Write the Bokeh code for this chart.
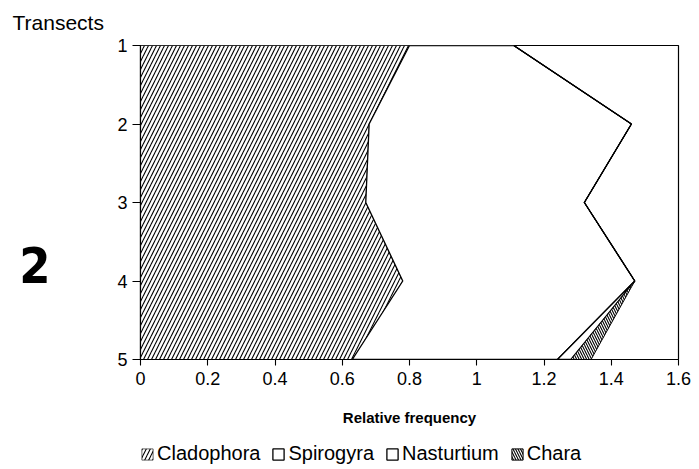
import numpy as np
from bokeh.plotting import figure
from bokeh.layouts import column
from bokeh.models import Range1d, FixedTicker, Legend, LegendItem, LinearAxis, Title
from bokeh.embed import file_html
from bokeh.resources import INLINE

# ---- data ----
transects = [1, 2, 3, 4, 5]
species = ["Cladophora", "Spirogyra", "Nasturtium", "Chara"]
cladophora = [0.80, 0.68, 0.67, 0.78, 0.63]
spirogyra = [0.31, 0.78, 0.65, 0.69, 0.61]
nasturtium = [0.0, 0.0, 0.0, 0.0, 0.04]
chara = [0.0, 0.0, 0.0, 0.0, 0.06]
x_ticks = [0, 0.2, 0.4, 0.6, 0.8, 1.0, 1.2, 1.4, 1.6]
x_tick_labels = ["0", "0.2", "0.4", "0.6", "0.8", "1", "1.2", "1.4", "1.6"]
y_ticks = [1, 2, 3, 4, 5]
y_tick_labels = ["1", "2", "3", "4", "5"]
y_title = "Transects"
x_title = "Relative frequency"
panel_label = "2"
panel_label_pos = 3.8

FONT = "Liberation Sans"
W = 693

p = figure(frame_width=538, frame_height=314,
           x_range=Range1d(0, 1.6), y_range=Range1d(5, 1),
           output_backend="svg", toolbar_location=None,
           min_border_left=140, min_border_right=15,
           min_border_top=43, min_border_bottom=75)
p.background_fill_color = "white"
p.border_fill_color = "white"
p.grid.visible = False
p.outline_line_color = "black"
p.outline_line_width = 1.2
p.outline_line_alpha = 1

styles = [
    dict(fill_color="white", hatch_pattern="/", hatch_scale=8, hatch_weight=1.1,
         hatch_color="black", line_color="black", line_width=0.6),
    dict(fill_color="white", line_color="black", line_width=1.3),
    dict(fill_color="white", line_color="black", line_width=1.3),
    dict(fill_color="white", hatch_pattern="\\", hatch_scale=5, hatch_weight=1.1,
         hatch_color="black", line_color="black", line_width=1.0),
]

series = [cladophora, spirogyra, nasturtium, chara]
cum = np.cumsum(np.array(series), axis=0)
left = np.zeros(len(transects))
for i, name in enumerate(species):
    right = cum[i]
    xs = list(right) + list(left[::-1])
    ys = list(transects) + list(transects[::-1])
    p.patch(xs, ys, **styles[i])
    left = right

# axes
for ax in (p.xaxis[0], p.yaxis[0]):
    ax.axis_line_color = "black"
    ax.axis_line_width = 1.2
    ax.major_tick_line_color = "black"
    ax.major_tick_line_width = 1.1
    ax.major_tick_in = 0
    ax.minor_tick_line_color = None
    ax.major_label_text_font = FONT
    ax.major_label_text_font_size = "18px"
    ax.major_label_text_color = "black"

p.xaxis.ticker = FixedTicker(ticks=x_ticks)
p.xaxis.major_label_overrides = {t: l for t, l in zip(x_ticks, x_tick_labels)}
p.xaxis.major_tick_out = 6
p.xaxis.major_label_standoff = 6
p.xaxis.axis_label = x_title
p.xaxis.axis_label_text_font = FONT
p.xaxis.axis_label_text_font_size = "15px"
p.xaxis.axis_label_text_font_style = "bold"
p.xaxis.axis_label_text_color = "black"
p.xaxis.axis_label_standoff = 21

p.yaxis.ticker = FixedTicker(ticks=y_ticks)
p.yaxis.major_label_overrides = {t: l for t, l in zip(y_ticks, y_tick_labels)}
p.yaxis.major_tick_out = 8
p.yaxis.major_label_standoff = 5

# big panel label "2" as the label of an extra, otherwise invisible, left axis
ax2 = LinearAxis(ticker=FixedTicker(ticks=[panel_label_pos]),
                 major_label_overrides={panel_label_pos: panel_label})
ax2.axis_line_color = None
ax2.major_tick_line_color = None
ax2.minor_tick_line_color = None
ax2.major_tick_out = 0
ax2.major_tick_in = 0
ax2.major_label_standoff = 64
ax2.major_label_text_font = "Liberation Sans Narrow, DejaVu Sans Condensed, Liberation Sans"
ax2.major_label_text_font_size = "50px"
ax2.major_label_text_font_style = "bold"
ax2.major_label_text_color = "black"
p.add_layout(ax2, "left")

# "Transects" title top-left
t = Title(text=y_title, align="left", offset=-128, vertical_align="top",
          standoff=20, text_font=FONT, text_font_size="21px",
          text_font_style="normal", text_color="black")
p.add_layout(t, "above")

# ---- legend strip below the chart ----
LEG_H = 34
p2 = figure(width=W, height=LEG_H, x_range=Range1d(0, 1), y_range=Range1d(0, 1),
            x_axis_type=None, y_axis_type=None,
            output_backend="svg", toolbar_location=None,
            min_border_left=0, min_border_right=0, min_border_top=0, min_border_bottom=0)
p2.grid.visible = False
p2.outline_line_color = None
p2.background_fill_color = "white"
p2.border_fill_color = "white"
# legend-only renderers (no visible geometry)
leg_renderers = [p2.patch(x=[np.nan], y=[np.nan], **styles[i]) for i in range(len(species))]

legend = Legend(items=[LegendItem(label=n, renderers=[r]) for n, r in zip(species, leg_renderers)],
                location=(0, 3), orientation="horizontal",
                glyph_width=14, glyph_height=14, label_standoff=3, spacing=11,
                padding=0, margin=0, border_line_color=None,
                background_fill_alpha=0,
                label_text_font=FONT, label_text_font_size="20px",
                label_text_color="black")
p2.add_layout(legend, "center")

layout = column(p, p2, spacing=0)
open("out.html", "w").write(file_html(layout, INLINE))
